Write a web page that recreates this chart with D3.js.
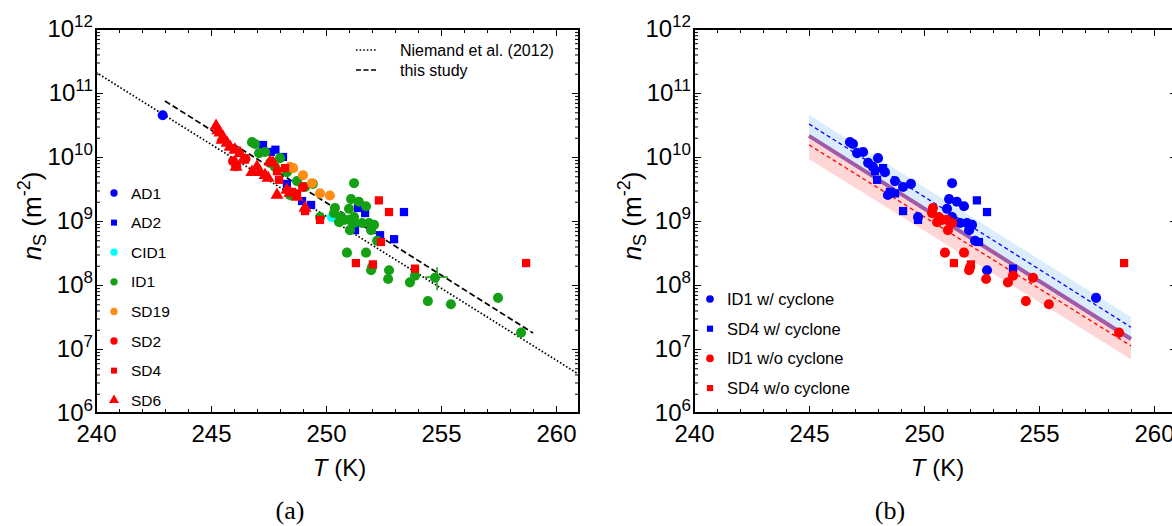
<!DOCTYPE html>
<html>
<head>
<meta charset="utf-8">
<title>ns vs T</title>
<script src="https://cdn.jsdelivr.net/npm/d3@7"></script>
<style>
  body {margin: 0; background: #fff;}
  text {font-family: "Liberation Sans", Arial, sans-serif; fill: #000;}
  .frame {fill: none; stroke: #000; stroke-width: 2;}
  .tick line {stroke: #000; stroke-width: 1;}
</style>
</head>
<body>
<div id="container"></div>
<script>
// ---- data: [T (K), n_s (m^-2)] ----
// right panel groups (ID1 and SD4 split by cyclone)
const ID1_cyc = [
  [246.78,1.71e10],[246.91,1.6e10],[247.09,1.15e10],[247.35,1.2e10],[247.57,8.1e9],
  [248.0,9.6e9],[247.78,7.0e9],[248.3,5.8e9],[248.74,4.2e9],[249.09,3.4e9],
  [249.43,3.8e9],[248.43,2.55e9],[249.74,1.15e9],[251.22,3.9e9],[251.09,2.2e9],
  [251.43,2.0e9],[251.74,1.7e9],[251.0,1.55e9],[251.22,1.15e9],[251.57,9.3e8],
  [251.87,9.3e8],[252.09,8.7e8],[251.96,7.2e8],[252.22,4.9e8],[252.74,1.7e8],
  [257.48,6.3e7]
];
const SD4_cyc = [
  [247.87,6.0e9],[248.22,6.7e9],[247.96,4.4e9],[248.52,2.85e9],[248.74,2.7e9],
  [249.09,1.43e9],[249.74,1.04e9],[252.3,2.1e9],[252.74,1.38e9],[252.39,4.7e8],
  [253.87,1.8e8]
];
const ID1_nocyc = [
  [250.39,1.6e9],[250.35,1.33e9],[250.65,1.15e9],[250.78,1.04e9],[250.57,9.6e8],
  [251.22,9.3e8],[251.0,1.04e9],[251.04,7.2e8],[250.91,3.2e8],[251.74,3.2e8],
  [252.0,1.9e8],[251.96,1.7e8],[252.7,1.24e8],[253.65,1.1e8],[253.87,1.4e8],
  [254.74,1.3e8],[254.43,5.6e7],[255.43,5.0e7],[258.48,1.8e7]
];
const SD4_nocyc = [[251.3,2.2e8],[252.04,2.1e8],[258.7,2.2e8]];

// left panel groups
const AD1 = [[242.9,4.5e10]];
const AD2 = [
  [247.26,1.54e10],[247.6,1.2e10],[247.8,1.3e10],[248.13,1.0e10],[248.3,3.8e9],
  [248.96,2.05e9],[249.35,1.78e9],[251.39,1.6e9],[251.7,1.33e9],[253.39,1.38e9],
  [251.26,7.2e8],[252.35,6.0e8],[252.96,5.2e8]
];
const CID1 = [[250.26,1.15e9]];
const ID1 = ID1_cyc.concat(ID1_nocyc);
const SD19 = [[248.43,7.0e9],[248.57,6.7e9],[249.0,5.2e9],[249.39,3.9e9],[249.74,2.7e9],[250.17,2.5e9]];
const SD2 = [[245.96,8.6e9],[246.1,7.2e9],[246.5,9.4e9],[249.0,3.4e9]];
const SD4 = SD4_cyc.concat(SD4_nocyc);
const SD6 = [
  [245.22,3.05e10],[245.3,2.6e10],[245.39,2.4e10],[245.52,2.05e10],[245.48,1.84e10],
  [245.7,1.65e10],[245.83,1.43e10],[246.04,1.29e10],[246.26,1.15e10],[246.09,7.0e9],
  [246.39,9.0e9],[247.0,7.0e9],[246.78,5.8e9],[247.13,5.8e9],[247.35,5.2e9],
  [247.48,4.7e9],[247.57,8.4e9],[247.7,8.1e9],[247.87,2.55e9],[248.3,3.05e9],
  [248.43,2.74e9],[248.74,2.37e9],[249.09,1.6e9]
];
// error bar on one ID1 point: [T, ns, Tlo, Thi, nslo, nshi]
const ID1_err = [[254.83,1.33e8,254.3,255.3,8.3e7,1.9e8]];

// fit lines, endpoints [T, ns]
const niemandLine = [[240,2.1e11],[261,4.0e6]];
const thisStudyLine = [[243,7.5e10],[259,1.78e7]];
// right panel fits and bands at T = 245 and 259
const fitT = [245, 259];
const cycUpper = [4.57e10, 3.16e7];
const fitCyc = [3.28e10, 2.19e7];
const fitAll = [2.14e10, 1.43e7];
const fitNoCyc = [1.55e10, 1.12e7];
const noCycLower = [9.3e9, 6.9e6];

// ticks
const xMajor = [240, 245, 250, 255, 260];
const xMinor = d3.range(240, 262).filter(d => d % 5 !== 0);
const yMajor = [1e6, 1e7, 1e8, 1e9, 1e10, 1e11, 1e12];
const yMinor = [];
for (let e = 6; e < 12; e++) for (let m = 2; m < 10; m++) yMinor.push(m * Math.pow(10, e));

// ---- layout ----
const W = 1172, H = 526;
const plotTop = 29, plotBottom = 413, pw = 483;

const svg = d3.select('#container').append('svg')
  .attr('width', W).attr('height', H)
  .style('background', '#fff');

const symbols = {circle: d3.symbolCircle, square: d3.symbolSquare, triangle: d3.symbolTriangle};
const markerSize = {circle: 80, square: 68, triangle: 74};

function makePanel(x0, id) {
  const x = d3.scaleLinear().domain([240, 261]).range([x0, x0 + pw]);
  const y = d3.scaleLog().domain([1e6, 1e12]).range([plotBottom, plotTop]);
  const g = svg.append('g');
  g.append('clipPath').attr('id', 'clip-' + id).append('rect')
    .attr('x', x0).attr('y', plotTop).attr('width', pw).attr('height', plotBottom - plotTop);
  const plot = g.append('g').attr('clip-path', `url(#clip-${id})`);
  return {x, y, g, plot, x0};
}

function drawAxes(p) {
  const {x, y, g, x0} = p;
  const noDomain = s => s.select('.domain').remove();

  g.append('g').attr('transform', `translate(0,${plotBottom})`)
    .call(d3.axisBottom(x).tickValues(xMajor).tickSize(-7).tickPadding(12).tickFormat(d3.format('d')))
    .call(noDomain)
    .attr('font-size', 24).attr('font-family', null);
  g.append('g').attr('transform', `translate(0,${plotBottom})`)
    .call(d3.axisBottom(x).tickValues(xMinor).tickSize(-4).tickFormat(''))
    .call(noDomain);
  g.append('g').attr('transform', `translate(0,${plotTop})`)
    .call(d3.axisTop(x).tickValues(xMajor).tickSize(-7).tickFormat(''))
    .call(noDomain);
  g.append('g').attr('transform', `translate(0,${plotTop})`)
    .call(d3.axisTop(x).tickValues(xMinor).tickSize(-4).tickFormat(''))
    .call(noDomain);

  const yl = g.append('g').attr('transform', `translate(${x0},0)`)
    .call(d3.axisLeft(y).tickValues(yMajor).tickSize(-7).tickPadding(3).tickFormat(''))
    .call(noDomain)
    .attr('font-size', 24).attr('font-family', null);
  yl.selectAll('.tick text').each(function(d) {
    const t = d3.select(this);
    t.append('tspan').text('10');
    t.append('tspan').attr('font-size', 17).attr('dy', -10).text(Math.round(Math.log10(d)));
  });
  g.append('g').attr('transform', `translate(${x0},0)`)
    .call(d3.axisLeft(y).tickValues(yMinor).tickSize(-4).tickFormat(''))
    .call(noDomain);
  g.append('g').attr('transform', `translate(${x0 + pw},0)`)
    .call(d3.axisRight(y).tickValues(yMajor).tickSize(-7).tickFormat(''))
    .call(noDomain);
  g.append('g').attr('transform', `translate(${x0 + pw},0)`)
    .call(d3.axisRight(y).tickValues(yMinor).tickSize(-4).tickFormat(''))
    .call(noDomain);

  g.append('rect').attr('class', 'frame')
    .attr('x', x0).attr('y', plotTop).attr('width', pw).attr('height', plotBottom - plotTop);

  // axis title
  const tx = g.append('text').attr('x', x0 + pw / 2 + 2).attr('y', 476)
    .attr('text-anchor', 'middle').attr('font-size', 24);
  tx.append('tspan').attr('font-style', 'italic').text('T');
  tx.append('tspan').text(' (K)');
}

function yTitle(xPos) {
  const t = svg.append('text').attr('transform', `translate(${xPos},216) rotate(-90)`)
    .attr('text-anchor', 'middle').attr('font-size', 26);
  t.append('tspan').attr('font-style', 'italic').text('n');
  t.append('tspan').attr('font-size', 18).attr('dy', 5).text('S');
  t.append('tspan').attr('dy', -5).text(' (m');
  t.append('tspan').attr('font-size', 18).attr('dy', -11).text('-2');
  t.append('tspan').attr('dy', 11).text(')');
}

function drawSeries(p, data, shape, color) {
  p.plot.append('g').selectAll('path').data(data).join('path')
    .attr('transform', d => `translate(${p.x(d[0])},${p.y(d[1])})`)
    .attr('d', d3.symbol(symbols[shape], markerSize[shape]))
    .attr('fill', color);
}

function drawFit(p, pts, color, dash, width) {
  const line = d3.line().x(d => p.x(d[0])).y(d => p.y(d[1]));
  p.plot.append('path').datum(pts).attr('d', line)
    .attr('fill', 'none').attr('stroke', color)
    .attr('stroke-width', width).attr('stroke-dasharray', dash);
}

function legendEntry(g, xm, yv, shape, color, label, size, fs) {
  g.append('path').attr('transform', `translate(${xm},${yv})`)
    .attr('d', d3.symbol(symbols[shape], size)).attr('fill', color);
  g.append('text').attr('x', xm + 17).attr('y', yv).attr('dy', '0.36em')
    .attr('font-size', fs).text(label);
}

// ---- left panel (a) ----
const L = makePanel(96, 'a');
drawFit(L, niemandLine, '#000', '1.6,2', 1.7);
drawFit(L, thisStudyLine, '#000', '6,3', 1.7);

const leftGroups = [
  {name: 'AD1', data: AD1, shape: 'circle', color: '#0000ff'},
  {name: 'AD2', data: AD2, shape: 'square', color: '#0000ff'},
  {name: 'CID1', data: CID1, shape: 'circle', color: '#00ffff'},
  {name: 'ID1', data: ID1, shape: 'circle', color: '#14a014'},
  {name: 'SD19', data: SD19, shape: 'circle', color: '#ff8c14'},
  {name: 'SD2', data: SD2, shape: 'circle', color: '#ff0000'},
  {name: 'SD4', data: SD4, shape: 'square', color: '#ff0000'},
  {name: 'SD6', data: SD6, shape: 'triangle', color: '#ff0000'}
];
leftGroups.forEach(s => {
  drawSeries(L, s.data, s.shape, s.color);
  if (s.name === 'ID1') {
    const eg = L.plot.append('g').attr('stroke', '#14a014').attr('stroke-width', 1.5);
    eg.selectAll('line.h').data(ID1_err).join('line').attr('class', 'h')
      .attr('x1', d => L.x(d[2])).attr('x2', d => L.x(d[3]))
      .attr('y1', d => L.y(d[1])).attr('y2', d => L.y(d[1]));
    eg.selectAll('line.v').data(ID1_err).join('line').attr('class', 'v')
      .attr('x1', d => L.x(d[0])).attr('x2', d => L.x(d[0]))
      .attr('y1', d => L.y(d[4])).attr('y2', d => L.y(d[5]));
  }
});
drawAxes(L);
yTitle(41);

const legL = L.g.append('g');
leftGroups.forEach((s, i) => {
  const sz = s.shape === 'circle' ? 42 : (s.shape === 'square' ? 36 : 44);
  legendEntry(legL, 114, 193 + i * 29.6, s.shape, s.color, s.name, sz, 15.5);
});
// line legend
const lineLeg = [
  {label: 'Niemand et al. (2012)', dash: '1.6,2', y: 50},
  {label: 'this study', dash: '5,2.5', y: 70}
];
lineLeg.forEach(d => {
  legL.append('line').attr('x1', 356).attr('x2', 377).attr('y1', d.y).attr('y2', d.y)
    .attr('stroke', '#000').attr('stroke-width', 1.3).attr('stroke-dasharray', d.dash);
  legL.append('text').attr('x', 400).attr('y', d.y).attr('dy', '0.36em')
    .attr('font-size', 16).text(d.label);
});

// ---- right panel (b) ----
const R = makePanel(694, 'b');
const bandPts = (a, b) => fitT.map((t, i) => ({t, lo: a[i], hi: b[i]}));
const band = d3.area().x(d => R.x(d.t)).y0(d => R.y(d.lo)).y1(d => R.y(d.hi));
R.plot.append('path').datum(bandPts(fitAll, cycUpper)).attr('d', band).attr('fill', '#dbedfd');
R.plot.append('path').datum(bandPts(noCycLower, fitAll)).attr('d', band).attr('fill', '#ffd6d6');
const pairs = arr => fitT.map((t, i) => [t, arr[i]]);
drawFit(R, pairs(fitCyc), '#0000ff', '4,3', 1.3);
drawFit(R, pairs(fitNoCyc), '#ff0000', '4,3', 1.3);
drawFit(R, pairs(fitAll), '#a05aa8', null, 4);

const rightGroups = [
  {name: 'ID1 w/ cyclone', data: ID1_cyc, shape: 'circle', color: '#0000ff'},
  {name: 'SD4 w/ cyclone', data: SD4_cyc, shape: 'square', color: '#0000ff'},
  {name: 'ID1 w/o cyclone', data: ID1_nocyc, shape: 'circle', color: '#ff0000'},
  {name: 'SD4 w/o cyclone', data: SD4_nocyc, shape: 'square', color: '#ff0000'}
];
rightGroups.forEach(s => drawSeries(R, s.data, s.shape, s.color));
drawAxes(R);
yTitle(641);

const legR = R.g.append('g');
rightGroups.forEach((s, i) => {
  legendEntry(legR, 710, 299 + i * 29.7, s.shape, s.color, s.name, s.shape === 'circle' ? 46 : 38, 16.5);
});

// captions
[{t: '(a)', x: 290}, {t: '(b)', x: 890}].forEach(c => {
  svg.append('text').attr('x', c.x).attr('y', 519).attr('text-anchor', 'middle')
    .attr('font-size', 26).style('font-family', '"Liberation Serif", "DejaVu Serif", serif')
    .text(c.t);
});
</script>
</body>
</html>
